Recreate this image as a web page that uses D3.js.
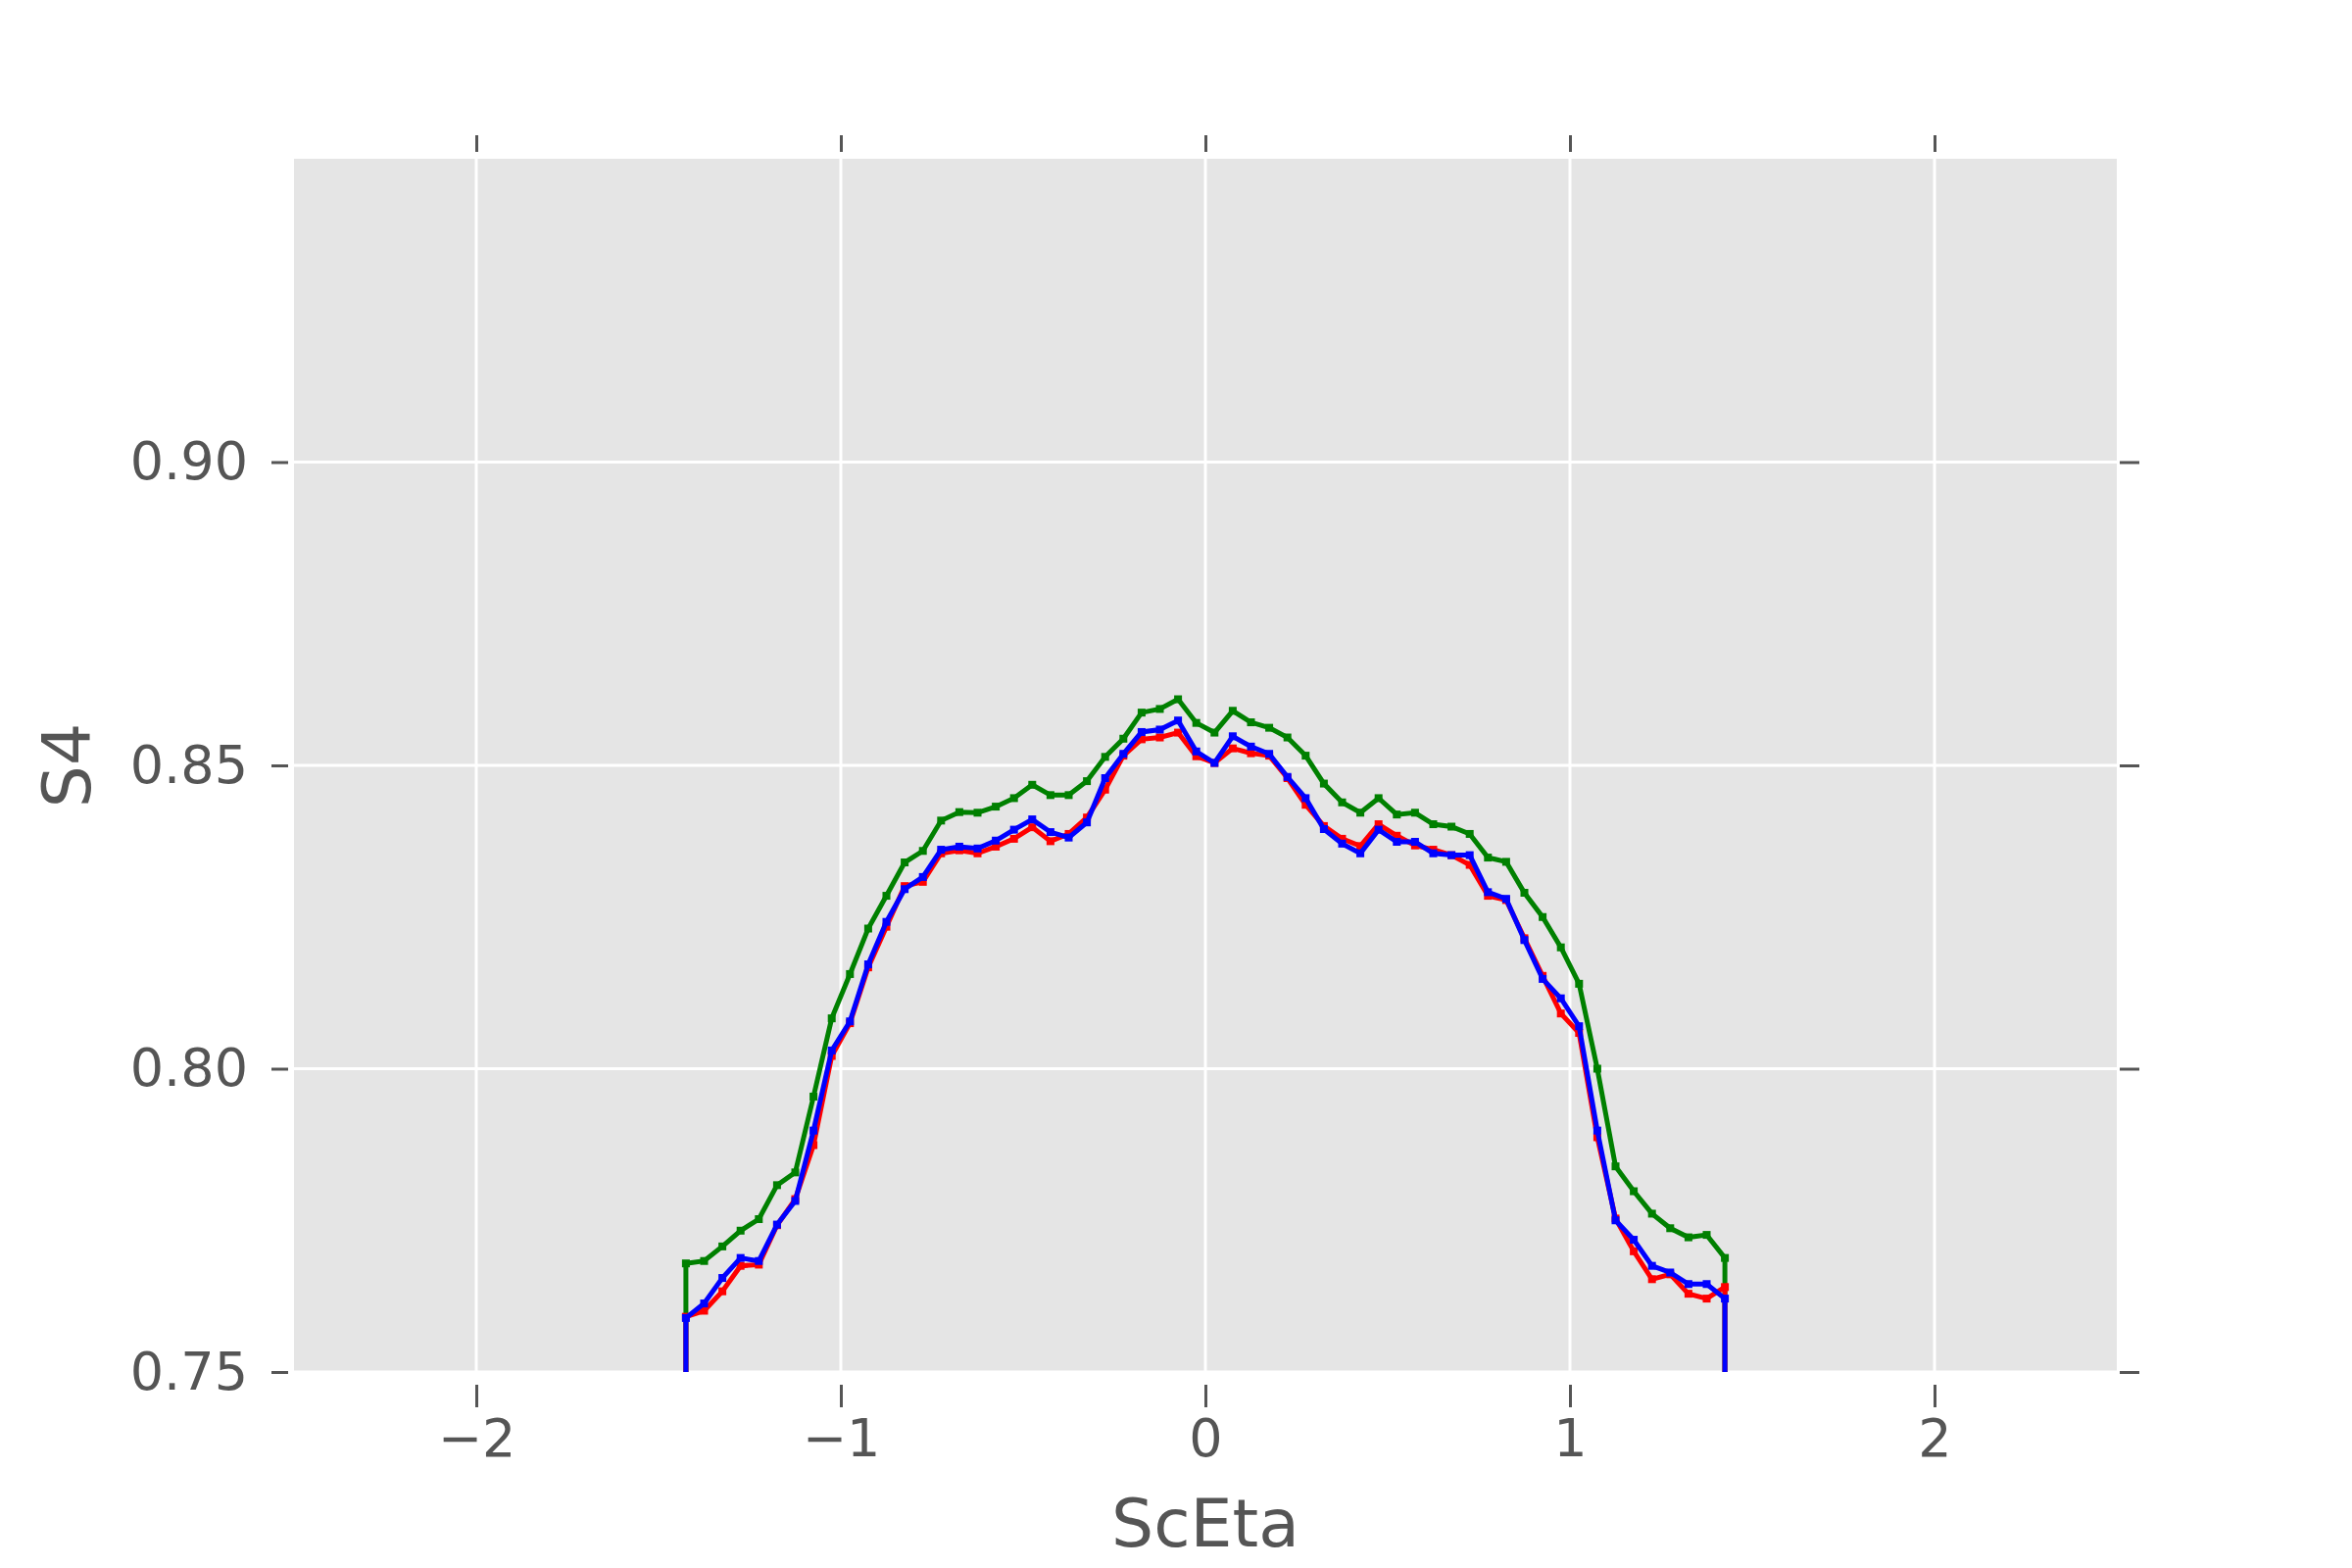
<!DOCTYPE html>
<html>
<head>
<meta charset="utf-8">
<script src="https://cdn.jsdelivr.net/npm/d3@7"></script>
<style>
  body { margin: 0; background: #fff; }
  svg text { font-family: "DejaVu Sans", sans-serif; fill: #555; }
</style>
</head>
<body>
<svg id="chart" width="2400" height="1600"></svg>
<script>
//----------------------------------------------------------- DATA
// bin centres in ScEta, -1.425 .. 1.425 step 0.05
var etaBins = d3.range(58).map(function(i){ return -1.425 + 0.05*i; });

var s4Green = [0.7679,0.7683,0.7707,0.7733,0.7752,0.7808,0.7829,0.7954,
  0.8083,0.8156,0.8231,
  0.8285,0.8340,0.8359,0.8409,0.8423,0.8422,0.8432,0.8446,0.8468,0.8451,0.8451,0.8474,0.8514,0.8544,0.8587,
  0.8593,0.8609,0.8570,0.8554,0.8590,0.8571,0.8562,0.8546,0.8516,0.8470,0.8439,0.8422,0.8446,0.8419,0.8422,0.8403,0.8399,
  0.8387,0.8348,0.8341,0.8290,0.8250,0.8200,0.8140,0.8000,
  0.7839,0.7798,0.7761,0.7737,0.7722,0.7726,0.7688];

var s4Red = [0.7591,0.7601,0.7633,0.7675,0.7677,0.7742,0.7785,0.7874,0.8021,
  0.8075,0.8167,0.8234,
  0.8301,0.8308,0.8355,0.8360,0.8355,0.8366,0.8379,0.8398,0.8375,0.8387,0.8414,0.8460,0.8516,0.8543,
  0.8546,0.8554,0.8515,0.8504,0.8528,0.8520,0.8516,0.8479,0.8435,0.8400,0.8379,0.8367,0.8403,0.8384,0.8368,0.8361,0.8352,
  0.8336,0.8285,0.8278,0.8215,0.8153,0.8091,0.8059,0.7887,
  0.7753,0.7699,0.7653,0.7661,0.7629,0.7621,0.7640];

var s4Blue = [0.7589,0.7613,0.7655,0.7688,0.7683,0.7743,0.7782,0.7898,0.8030,
  0.8078,0.8172,0.8242,
  0.8296,0.8316,0.8361,0.8366,0.8363,0.8376,0.8394,0.8411,0.8390,0.8381,0.8406,0.8479,0.8519,0.8555,
  0.8559,0.8574,0.8523,0.8504,0.8548,0.8531,0.8519,0.8481,0.8446,0.8395,0.8371,0.8355,0.8394,0.8374,0.8374,0.8355,0.8352,
  0.8352,0.8291,0.8280,0.8212,0.8148,0.8116,0.8070,0.7898,
  0.7750,0.7718,0.7675,0.7664,0.7645,0.7645,0.7621];

var xTicks = [-2,-1,0,1,2];
var yTicks = [0.75,0.80,0.85,0.90];
var seriesList = [
  {values:s4Green, color:"#008000"},
  {values:s4Red,   color:"#ff0000"},
  {values:s4Blue,  color:"#0000ff"}
];

//----------------------------------------------------------- LAYOUT
var pLeft=300, pRight=2160, pTop=162, pBottom=1400;
var svg = d3.select("#chart");
var x = d3.scaleLinear().domain([-2.5,2.5]).range([pLeft,pRight]);
var y = d3.scaleLinear().domain([0.75,0.95]).range([pBottom,pTop]);

svg.append("rect").attr("x",pLeft).attr("y",pTop)
  .attr("width",pRight-pLeft).attr("height",pBottom-pTop).attr("fill","#e5e5e5");

svg.append("defs").append("clipPath").attr("id","clip")
  .append("rect").attr("x",pLeft).attr("y",pTop).attr("width",pRight-pLeft).attr("height",pBottom-pTop);

// grid
svg.append("g").selectAll("line").data(xTicks).enter().append("line")
  .attr("x1",function(d){return x(d);}).attr("x2",function(d){return x(d);})
  .attr("y1",pTop).attr("y2",pBottom).attr("stroke","#fff").attr("stroke-width",3);
svg.append("g").selectAll("line").data(yTicks).enter().append("line")
  .attr("y1",function(d){return y(d);}).attr("y2",function(d){return y(d);})
  .attr("x1",pLeft).attr("x2",pRight).attr("stroke","#fff").attr("stroke-width",3);

// axes (ticks drawn outside with a gap)
function styleAxis(g){
  g.select(".domain").remove();
  g.selectAll(".tick line").attr("stroke","#555").attr("stroke-width",3);
  g.selectAll(".tick text").attr("font-size",54).style("fill","#555");
}
var fmtX = function(d){ return d<0 ? "\u2212"+Math.abs(d) : String(d); };
svg.append("g").attr("transform","translate(0,"+(pBottom+13)+")")
  .call(d3.axisBottom(x).tickValues(xTicks).tickSize(23).tickPadding(12).tickFormat(fmtX))
  .call(styleAxis);
svg.append("g").attr("transform","translate(0,"+(pTop-7)+")")
  .call(d3.axisTop(x).tickValues(xTicks).tickSize(17).tickFormat(""))
  .call(styleAxis);
svg.append("g").attr("transform","translate("+(pLeft-6)+",0)")
  .call(d3.axisLeft(y).tickValues(yTicks).tickSize(17).tickPadding(24).tickFormat(d3.format(".2f")))
  .call(styleAxis);
svg.append("g").attr("transform","translate("+(pRight+3)+",0)")
  .call(d3.axisRight(y).tickValues(yTicks).tickSize(20).tickFormat(""))
  .call(styleAxis);

// series: each curve drops to zero at both ends of the eta range
var line = d3.line().x(function(d){return x(d[0]);}).y(function(d){return y(d[1]);});
var plot = svg.append("g").attr("clip-path","url(#clip)");
seriesList.forEach(function(s){
  var pts = s.values.map(function(v,i){ return [etaBins[i], v]; });
  pts.unshift([etaBins[0], 0]);
  pts.push([etaBins[etaBins.length-1], 0]);
  plot.append("path").datum(pts).attr("d",line)
    .attr("fill","none").attr("stroke",s.color).attr("stroke-width",5)
    .attr("stroke-linejoin","miter");
  plot.append("g").selectAll("rect").data(pts.slice(1,-1)).enter().append("rect")
    .attr("x",function(d){return x(d[0])-4;}).attr("y",function(d){return y(d[1])-4;})
    .attr("width",8).attr("height",8).attr("fill",s.color);
});

// labels
svg.append("text").attr("x",(pLeft+pRight)/2).attr("y",1578)
  .attr("text-anchor","middle").attr("font-size",68).text("ScEta");
svg.append("text").attr("transform","translate(92,"+((pTop+pBottom)/2)+") rotate(-90)")
  .attr("text-anchor","middle").attr("font-size",68).text("S4");
</script>
</body>
</html>
